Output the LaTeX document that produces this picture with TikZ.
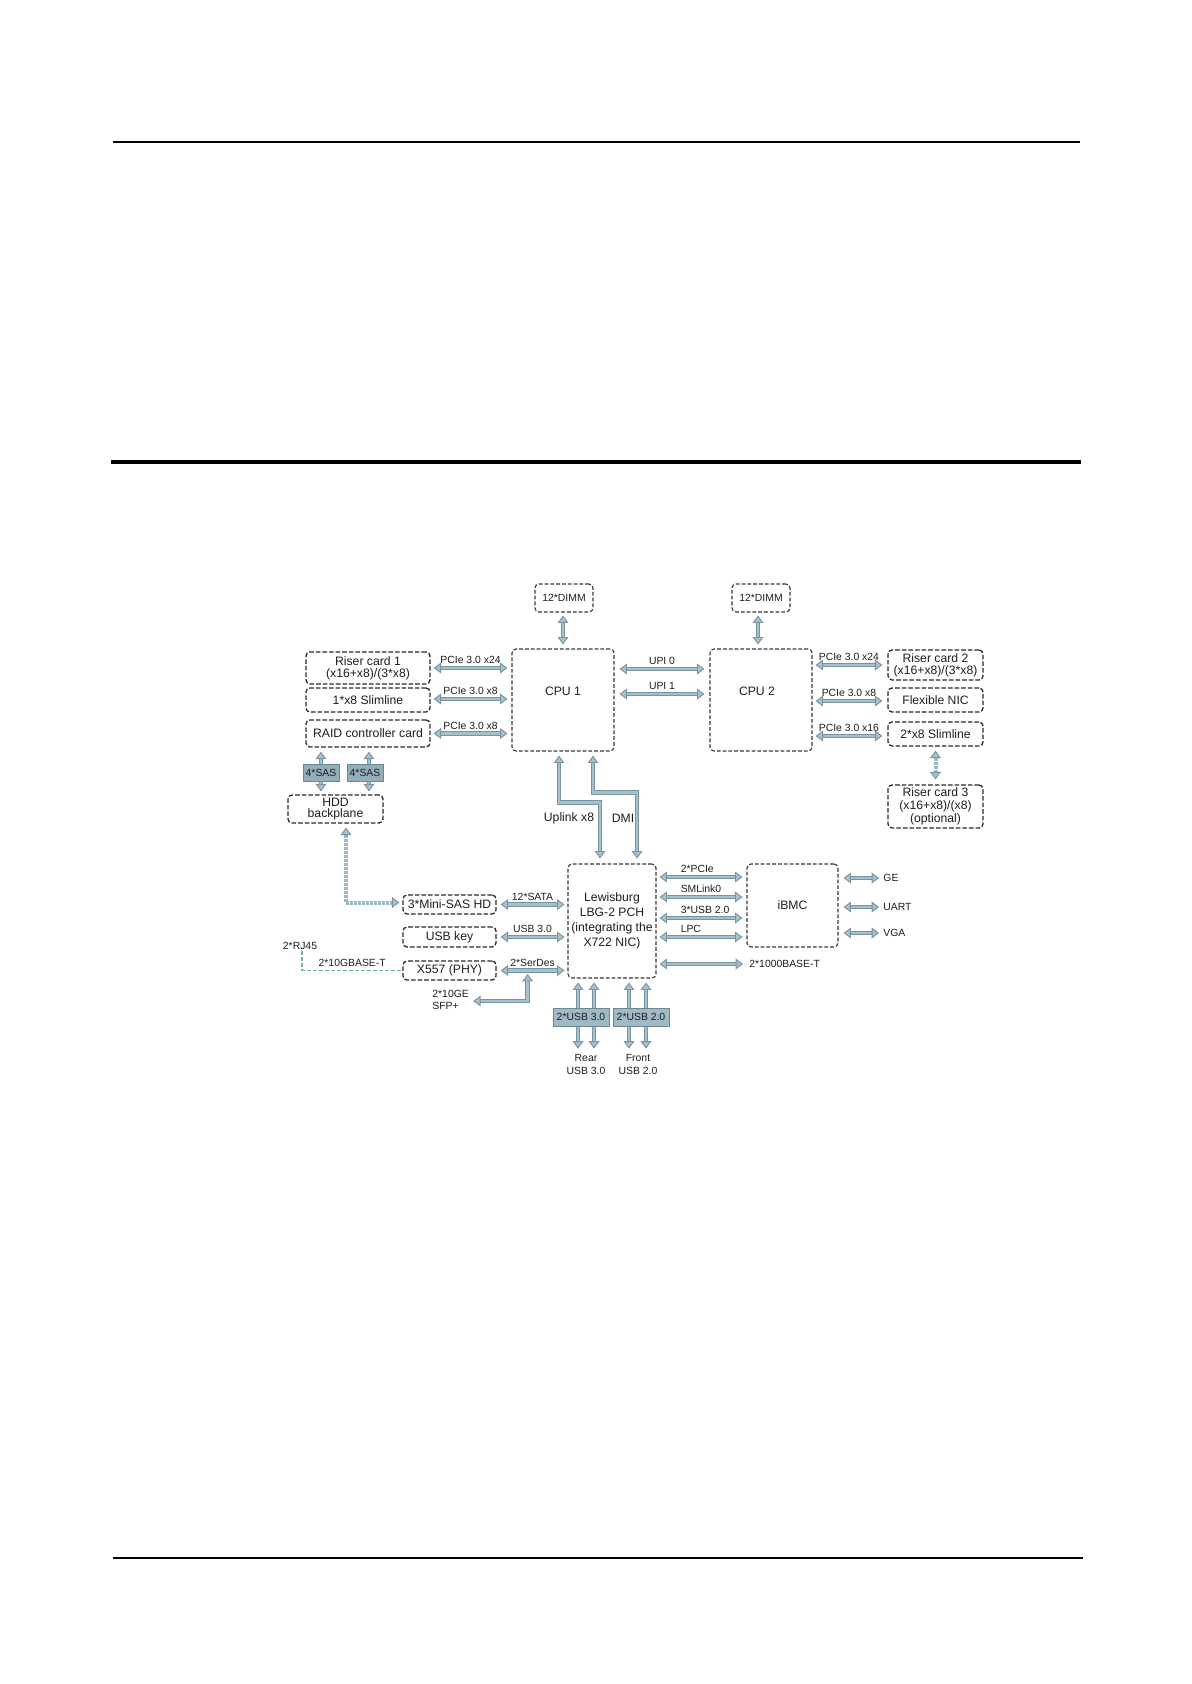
\documentclass[tikz,border=0pt]{standalone}
\usepackage{fontspec}
\setmainfont{Liberation Sans}
\usetikzlibrary{arrows.meta,calc}
\pgfdeclarelayer{bg}
\pgfsetlayers{bg,main}
\definecolor{alight}{HTML}{A8C0CC}
\definecolor{adark}{HTML}{7893A1}
\definecolor{adot}{HTML}{9DB7C3}
\definecolor{boxline}{HTML}{2A2A2A}
\definecolor{chipline}{HTML}{383838}
\definecolor{sasfill}{HTML}{93ADBA}
\definecolor{usbfill}{HTML}{A0B9C5}
\definecolor{tagline}{HTML}{6C8794}
\definecolor{rjgreen}{HTML}{74AE9F}
\definecolor{txt}{HTML}{1E1E1E}
\newcommand\fntcard{\fontsize{6.1pt}{7.4pt}\selectfont}
\newcommand\fntcardmid{\fontsize{6.1pt}{6.6pt}\selectfont}
\newcommand\fnttight{\fontsize{6.1pt}{5.9pt}\selectfont}
\newcommand\fntlab{\fontsize{5.2pt}{6.5pt}\selectfont}
\newcommand\fntlabtight{\fontsize{5.2pt}{5.9pt}\selectfont}
\tikzset{
  tipfat/.tip={Triangle[width=5.4pt,length=3.7pt,color=adark,fill=alight,line width=0.45pt]},
  fat/.style={draw=alight, line width=1.3pt, tipfat-tipfat,
     preaction={draw=adark, line width=2.2pt, -, shorten <=2.8pt, shorten >=2.8pt}},
  dotfat/.style={draw=adot, line width=2pt, dash pattern=on 1.4pt off 0.6pt, tipfat-tipfat},
  cardbox/.style={draw=boxline, line width=0.65pt, dash pattern=on 2.3pt off 1pt,
     rounded corners=2pt, inner sep=0pt, font=\fntcard, text=txt, align=center},
  chipbox/.style={draw=chipline, line width=0.55pt, dash pattern=on 1.9pt off 1pt,
     rounded corners=2pt, inner sep=0pt, font=\fntcard, text=txt, align=center},
  tagbox/.style={draw=tagline, line width=0.4pt, fill=sasfill, inner sep=0pt, font=\fntlab, text=txt},
  lab/.style={font=\fntlab, text=txt, inner sep=0pt},
  rjline/.style={draw=rjgreen, line width=0.6pt, dash pattern=on 2pt off 1pt},
  sz/.style 2 args={minimum width=#1, minimum height=#2},
  plab/.style={lab, above=1.5pt},
  llab/.style={lab, pos=0.24, anchor=south west, yshift=1.5pt},
}
\begin{document}
\begin{tikzpicture}[x=0.5pt,y=-0.5pt]
\begin{pgfonlayer}{bg}
\fill[white] (0,0) rectangle (1191,1684);
\end{pgfonlayer}
\useasboundingbox (0,0) rectangle (1191,1684);
% page rules
\draw[line width=0.6pt] (113,142) -- (1080,142);
\draw[line width=1.6pt] (111,462) -- (1081,462);
\draw[line width=0.6pt] (113,1558) -- (1083,1558);

% boxes
\node[chipbox, font=\fntlab, sz={29pt}{14pt}] (dimm1) at (564,598) {12*DIMM};
\node[chipbox, font=\fntlab, sz={29pt}{14pt}] (dimm2) at (761,598) {12*DIMM};
\node[chipbox, sz={51pt}{51pt}, label={[font=\fntcard,text=txt,yshift=4.5pt]center:CPU 1}] (cpu1) at (563,700) {};
\node[chipbox, sz={51pt}{51pt}, label={[font=\fntcard,text=txt,yshift=4.5pt,xshift=-2pt]center:CPU 2}] (cpu2) at (761,700) {};
\node[cardbox, font=\fnttight, sz={62pt}{16pt}] (riser1) at (368,668) {Riser card 1\\(x16+x8)/(3*x8)};
\node[cardbox, sz={62pt}{12pt}] (slim1) at (368,700) {1*x8 Slimline};
\node[cardbox, sz={62pt}{13.5pt}] (raid) at (368,733.5) {RAID controller card};
\node[cardbox, font=\fnttight, sz={47.5pt}{14pt}] (hdd) at (335.5,809) {HDD\\backplane};
\node[cardbox, font=\fnttight, sz={47.5pt}{15pt}] (riser2) at (935.5,665) {Riser card 2\\(x16+x8)/(3*x8)};
\node[cardbox, sz={47.5pt}{12pt}] (flexnic) at (935.5,700) {Flexible NIC};
\node[cardbox, sz={47.5pt}{12pt}] (slim2) at (935.5,734) {2*x8 Slimline};
\node[cardbox, font=\fntcardmid, sz={47.5pt}{21.5pt}] (riser3) at (935.5,806.5) {Riser card 3\\(x16+x8)/(x8)\\(optional)};
\node[chipbox, sz={44pt}{57pt}] (pch) at (612,921) {Lewisburg\\LBG-2 PCH\\(integrating the\\X722 NIC)};
\node[chipbox, sz={45.5pt}{41.5pt}] (ibmc) at (792.5,905.5) {iBMC};
\node[cardbox, sz={46.5pt}{9.5pt}] (minisas) at (449.5,904.5) {3*Mini-SAS HD};
\node[cardbox, sz={46.5pt}{10pt}] (usbkey) at (449.5,937) {USB key};
\node[cardbox, sz={46.5pt}{9.5pt}] (x557) at (449.5,970.5) {X557 (PHY)};
\node[tagbox, sz={18pt}{8.5pt}] (sas1) at (321,772.5) {4*SAS};
\node[tagbox, sz={18pt}{8.5pt}] (sas2) at (365,772.5) {4*SAS};
\node[tagbox, fill=usbfill, sz={28pt}{9pt}] (usb3) at (581,1017) {2*USB 3.0};
\node[tagbox, fill=usbfill, sz={28pt}{9pt}] (usb2) at (641,1017) {2*USB 2.0};

% free texts
\node[lab] (rj45) at (300,946) {2*RJ45};
\node[lab, align=left, font=\fntlabtight, anchor=west] (sfp) at (432,1000) {2*10GE\\SFP+};
\node[lab, anchor=west] (gbt) at (749,964) {2*1000BASE-T};
\node[lab, anchor=west] (ge) at (883,878) {GE};
\node[lab, anchor=west] (uart) at (883,907) {UART};
\node[lab, anchor=west] (vga) at (883,933) {VGA};
\node[lab, align=center] (rear) at (586,1064.5) {Rear\\USB 3.0};
\node[lab, align=center] (front) at (638,1064.5) {Front\\USB 2.0};
\node[font=\fntcard, text=txt, inner sep=0pt] (uplab) at (569,818) {Uplink x8};
\node[font=\fntcard, text=txt, inner sep=0pt] (dmilab) at (623,818) {DMI};

% connectors
\draw[fat] ($(dimm1.south)+(-1,3)$) -- ($(cpu1.north)+(0,-4)$);
\draw[fat] ($(dimm2.south)+(-3,3)$) -- ($(cpu2.north)+(-3,-4)$);
\draw[fat] ($(cpu1.east)+(5,-31)$) -- node[plab] {UPI 0} ($(cpu2.west)+(-5,-31)$);
\draw[fat] ($(cpu1.east)+(5,-6)$) -- node[plab] {UPI 1} ($(cpu2.west)+(-5,-6)$);
\draw[fat] ($(riser1.east)+(3,0)$) -- node[plab] {PCIe 3.0 x24} ($(cpu1.west)+(-4,-32)$);
\draw[fat] ($(slim1.east)+(3,-1)$) -- node[plab] {PCIe 3.0 x8} ($(cpu1.west)+(-4,-1)$);
\draw[fat] ($(raid.east)+(3,0)$) -- node[plab] {PCIe 3.0 x8} ($(cpu1.west)+(-4,33.5)$);
\draw[fat] ($(cpu2.east)+(3,-35)$) -- node[plab] {PCIe 3.0 x24} ($(riser2.west)+(-5,0)$);
\draw[fat] ($(cpu2.east)+(3,1)$) -- node[plab] {PCIe 3.0 x8} ($(flexnic.west)+(-5,1)$);
\draw[fat] ($(cpu2.east)+(3,36)$) -- node[plab] {PCIe 3.0 x16} ($(slim2.west)+(-5,2)$);
\draw[dotfat] ($(slim2.south)+(0,4)$) -- ($(riser3.north)+(0,-5)$);
\draw[dotfat] ($(hdd.south)+(10.5,4)$) |- ($(minisas.west)+(-3,-2)$);
\draw[fat] ($(cpu1.south)+(-4,4)$) |- ($(pch.north)+(-12,-61)$) -- ($(pch.north)+(-12,-5)$);
\draw[fat] ($(cpu1.south)+(30,4)$) |- ($(pch.north)+(25,-71)$) -- ($(pch.north)+(25,-5)$);
\draw[fat] ($(minisas.east)+(4,0)$) -- node[plab] {12*SATA} ($(pch.west)+(-3,-16.5)$);
\draw[fat] ($(usbkey.east)+(4,0)$) -- node[plab] {USB 3.0} ($(pch.west)+(-3,16)$);
\draw[fat] ($(x557.east)+(4,0)$) -- node[plab] {2*SerDes} ($(pch.west)+(-3,49.5)$);
\draw[fat] ($(x557.east)+(31,3.5)$) |- ($(sfp.east)+(4,1)$);
\draw[rjline] ($(rj45.south)+(2,1)$) |- node[lab, pos=0.75, above=1.5pt] {2*10GBASE-T} (x557.west);
\draw[fat] ($(pch.east)+(3,-44)$) -- node[llab] {2*PCIe} ($(ibmc.west)+(-4,-28.5)$);
\draw[fat] ($(pch.east)+(3,-24)$) -- node[llab] {SMLink0} ($(ibmc.west)+(-4,-8.5)$);
\draw[fat] ($(pch.east)+(3,-3)$) -- node[llab] {3*USB 2.0} ($(ibmc.west)+(-4,12.5)$);
\draw[fat] ($(pch.east)+(3,16)$) -- node[llab] {LPC} ($(ibmc.west)+(-4,31.5)$);
\draw[fat] ($(pch.east)+(3,43)$) -- ($(gbt.west)+(-6,0)$);
\draw[fat] ($(ibmc.east)+(5,-27.5)$) -- ($(ge.west)+(-4,0)$);
\draw[fat] ($(ibmc.east)+(5,1.5)$) -- ($(uart.west)+(-4,0)$);
\draw[fat] ($(ibmc.east)+(5,27.5)$) -- ($(vga.west)+(-4,0)$);
\begin{pgfonlayer}{bg}
\draw[fat] ($(raid.south)+(-47,4)$) -- ($(hdd.north)+(-14.5,-3)$);
\draw[fat] ($(raid.south)+(1,4)$) -- ($(hdd.north)+(33.5,-3)$);
\foreach \dx in {-34,-18,17,34}
  \draw[fat] ($(pch.south)+(\dx,4)$) -- ($(pch.south)+(\dx,70)$);
\end{pgfonlayer}
\end{tikzpicture}
\end{document}
